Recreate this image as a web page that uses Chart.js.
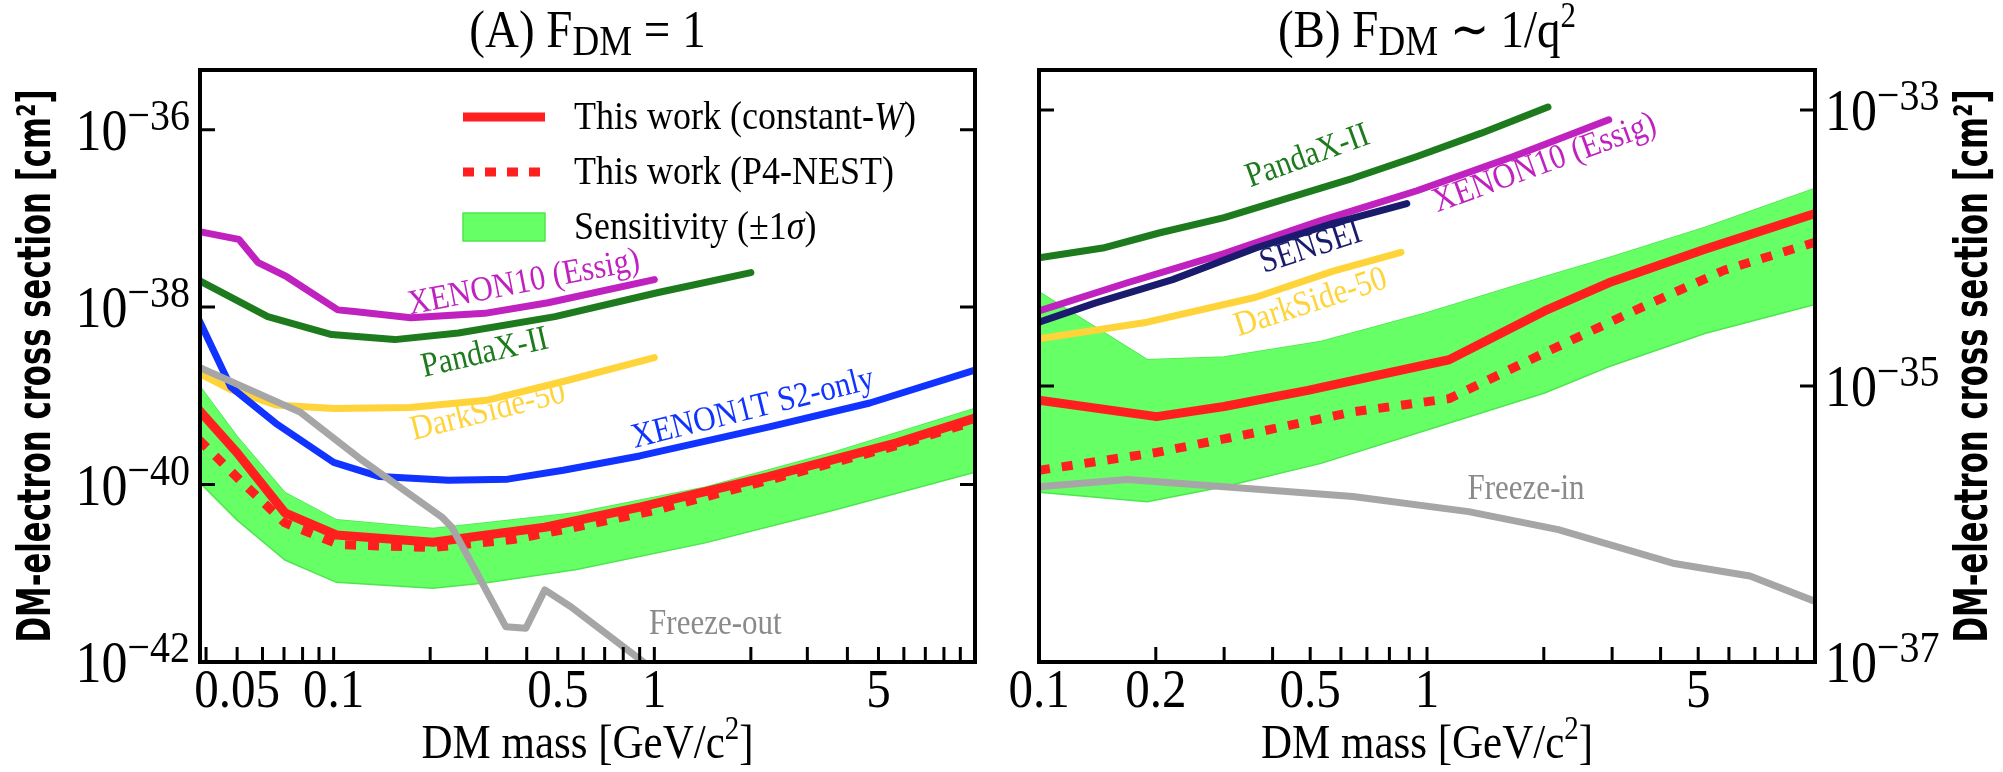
<!DOCTYPE html>
<html>
<head>
<meta charset="utf-8">
<script src="https://cdn.jsdelivr.net/npm/chart.js@4.4.1/dist/chart.umd.min.js"></script>
<style>
  html, body { margin:0; padding:0; background:#fff; }
  #wrap { position:relative; width:2003px; height:772px; overflow:hidden; }
  .panel { position:absolute; top:0; height:772px; }
</style>
</head>
<body>
<div id="wrap">
  <div class="panel" style="left:0;width:1000px"><canvas id="chartA" width="1000" height="772"></canvas></div>
  <div class="panel" style="left:1000px;width:1003px"><canvas id="chartB" width="1003" height="772"></canvas></div>
</div>
<script>
// ---- (A) F_DM = 1 ----
const massA_xenon10 = [0.038, 0.0506, 0.058, 0.0714, 0.103, 0.116, 0.174, 0.296, 0.466, 1.0];
const sigmaA_xenon10 = [7.1e-38, 5.8e-38, 3.2e-38, 2.2e-38, 9.3e-39, 8.9e-39, 7.6e-39, 8.5e-39, 1.12e-38, 2.04e-38];

const massA_pandax = [0.038, 0.0623, 0.0986, 0.155, 0.245, 0.49, 1.02, 2.0];
const sigmaA_pandax = [2.0e-38, 7.8e-39, 4.9e-39, 4.3e-39, 5.1e-39, 7.8e-39, 1.45e-38, 2.45e-38];

const massA_darkside = [0.038, 0.0478, 0.066, 0.1, 0.173, 0.30, 0.52, 1.0];
const sigmaA_darkside = [1.8e-39, 1.17e-39, 7.9e-40, 7.2e-40, 7.4e-40, 8.9e-40, 1.45e-39, 2.7e-39];

const massA_xenon1t = [0.038, 0.0478, 0.066, 0.1, 0.139, 0.228, 0.349, 0.52, 0.90, 2.3, 4.7, 10];
const sigmaA_xenon1t = [7.2e-39, 1.26e-39, 4.9e-40, 1.78e-40, 1.23e-40, 1.12e-40, 1.15e-40, 1.45e-40, 2.1e-40, 4.5e-40, 8.3e-40, 1.95e-39];

const massA_freeze = [0.038, 0.0789, 0.1198, 0.2175, 0.2336, 0.2735, 0.344, 0.3975, 0.4556, 0.549, 0.908, 1.0];
const sigmaA_freeze = [2.1e-39, 6.5e-40, 2.0e-40, 4.3e-41, 3.3e-41, 1.17e-41, 2.5e-42, 2.4e-42, 6.5e-42, 4.2e-42, 1.05e-42, 8e-43];

const massA_constW = [0.038, 0.0499, 0.0705, 0.102, 0.204, 0.30, 0.456, 0.908, 2.27, 5.7, 10];
const sigmaA_constW = [6.9e-40, 2.3e-40, 4.8e-41, 2.7e-41, 2.24e-41, 2.7e-41, 3.3e-41, 5.6e-41, 1.23e-40, 2.95e-40, 5.6e-40];

const massA_nest = [0.038, 0.051, 0.0705, 0.104, 0.204, 0.362, 0.52, 1.0, 2.27, 5.7, 10];
const sigmaA_nest = [3.2e-40, 1.12e-40, 3.7e-41, 2.1e-41, 1.95e-41, 2.4e-41, 3.1e-41, 5.1e-41, 1.12e-40, 2.75e-40, 5.2e-40];

const massA_band = [0.038, 0.0499, 0.0705, 0.102, 0.204, 0.30, 0.573, 1.44, 3.6, 10];
const sigmaA_bandHi = [1.32e-39, 3.5e-40, 8.1e-41, 4.0e-41, 3.2e-41, 3.7e-41, 4.8e-41, 9.3e-41, 2.3e-40, 7.2e-40];
const sigmaA_bandLo = [1.07e-40, 4.0e-41, 1.41e-41, 7.9e-42, 6.8e-42, 7.8e-42, 1.1e-41, 2.2e-41, 5.1e-41, 1.38e-40];

const ticksA_x = [0.05, 0.1, 0.5, 1, 5];
const ticksA_y = [1e-36, 1e-38, 1e-40, 1e-42];

// ---- (B) F_DM ~ 1/q^2 ----
const massB_pandax = [0.1, 0.146, 0.205, 0.30, 0.438, 0.644, 0.942, 1.38, 2.05];
const sigmaB_pandax = [8.5e-35, 1.0e-34, 1.29e-34, 1.66e-34, 2.3e-34, 3.2e-34, 4.6e-34, 6.8e-34, 1.05e-33];

const massB_xenon10 = [0.1, 0.169, 0.30, 0.533, 0.942, 1.67, 2.94];
const sigmaB_xenon10 = [3.5e-35, 5.6e-35, 9.1e-35, 1.58e-34, 2.6e-34, 4.6e-34, 8.5e-34];

const massB_sensei = [0.1, 0.14, 0.221, 0.362, 0.573, 0.887];
const sigmaB_sensei = [2.9e-35, 4.0e-35, 5.9e-35, 1.0e-34, 1.51e-34, 2.1e-34];

const massB_darkside = [0.1, 0.19, 0.362, 0.573, 0.857];
const sigmaB_darkside = [2.2e-35, 2.9e-35, 4.4e-35, 6.8e-35, 9.3e-35];

const massB_freeze = [0.1, 0.169, 0.30, 0.644, 1.28, 2.18, 4.3, 6.8, 10];
const sigmaB_freeze = [1.86e-36, 2.1e-36, 1.86e-36, 1.58e-36, 1.23e-36, 9.1e-37, 5.2e-37, 4.2e-37, 2.75e-37];

const massB_constW = [0.1, 0.201, 0.30, 0.493, 1.14, 2.01, 2.94, 5.2, 10];
const sigmaB_constW = [7.9e-36, 6.0e-36, 7.1e-36, 9.3e-36, 1.55e-35, 3.5e-35, 5.6e-35, 9.8e-35, 1.78e-34];

const massB_nest = [0.1, 0.201, 0.362, 0.644, 1.14, 2.01, 3.56, 5.83, 10];
const sigmaB_nest = [2.45e-36, 3.3e-36, 4.6e-36, 6.5e-36, 8.1e-36, 1.74e-35, 3.7e-35, 6.9e-35, 1.1e-34];

const massB_band = [0.1, 0.19, 0.30, 0.533, 1.0, 2.01, 2.94, 5.2, 10];
const sigmaB_bandHi = [4.8e-35, 1.55e-35, 1.62e-35, 2.1e-35, 3.4e-35, 6.2e-35, 8.5e-35, 1.41e-34, 2.7e-34];
const sigmaB_bandLo = [1.7e-36, 1.45e-36, 1.86e-36, 2.75e-36, 4.8e-36, 8.9e-36, 1.38e-35, 2.4e-35, 3.9e-35];

const ticksB_x = [0.1, 0.2, 0.5, 1, 5];
const ticksB_y = [1e-33, 1e-35, 1e-37];

// colours
const RED = '#ff1f1f', MAGENTA = '#bf22bf', DKGREEN = '#1d7b1d', BLUE = '#1133ff',
      GOLD = '#ffd43b', NAVY = '#1b1b6e', GREY = '#a6a6a6', GREYTXT = '#8a8a8a',
      BAND = '#66ff66', BANDEDGE = '#4ee64e';
const SERIF = '"Liberation Serif", "Times New Roman", serif';
const TALL = 1.13;   // serif glyphs in the figure are drawn a little taller than wide

const pts = (xs, ys) => xs.map((x, i) => ({ x, y: ys[i] }));

function line(xs, ys, color, width, order, dash){
  return {
    data: pts(xs, ys), borderColor: color, borderWidth: width, borderDash: dash || [],
    borderCapStyle: dash ? 'butt' : 'round', borderJoinStyle: 'round',
    pointRadius: 0, tension: 0, fill: false, order
  };
}
function band(xs, hi, lo){
  return [
    { data: pts(xs, hi), borderColor: BANDEDGE, borderWidth: 1.5, pointRadius: 0, tension: 0, fill: false, order: 21 },
    { data: pts(xs, lo), borderColor: BANDEDGE, borderWidth: 1.5, backgroundColor: BAND, pointRadius: 0, tension: 0, fill: '-1', order: 20 }
  ];
}

// minor+major tick positions k*10^e inside [min,max]
function logTicks(min, max){
  const out = [];
  for (let e = Math.floor(Math.log10(min)); e <= Math.ceil(Math.log10(max)); e++)
    for (let k = 1; k < 10; k++){
      const v = k * Math.pow(10, e);
      if (v >= min * 0.999 && v <= max * 1.001) out.push(v);
    }
  return out;
}

// text made of runs: {t, s (size), dy, it (italic)}
function runsWidth(ctx, runs){
  let w = 0;
  runs.forEach(r => { ctx.font = `${r.it ? 'italic ' : ''}${r.s}px ${SERIF}`; w += ctx.measureText(r.t).width; });
  return w;
}
function drawRuns(ctx, runs, x, y, align){
  let cx = align === 'center' ? x - runsWidth(ctx, runs) / 2 : x;
  ctx.textAlign = 'left'; ctx.textBaseline = 'alphabetic';
  runs.forEach(r => {
    ctx.font = `${r.it ? 'italic ' : ''}${r.s}px ${SERIF}`;
    ctx.save();
    ctx.translate(cx, y + (r.dy || 0));
    ctx.scale(1, TALL);
    ctx.fillText(r.t, 0, 0);
    ctx.restore();
    cx += ctx.measureText(r.t).width;
  });
}
function powRuns(v){
  const e = Math.round(Math.log10(v));
  return [{ t: '10', s: 52, dy: 20 }, { t: '\u2212' + Math.abs(e), s: 40 }];
}

function makeDeco(cfg){
  return {
    id: 'deco',
    afterDraw(chart){
      const { ctx, chartArea: a } = chart;
      const xs = chart.scales.x, ys = chart.scales.y;
      ctx.save();
      ctx.fillStyle = '#000'; ctx.strokeStyle = '#000';

      // inward ticks
      ctx.lineWidth = 3;
      logTicks(xs.min, xs.max).forEach(v => {
        const px = xs.getPixelForValue(v);
        ctx.beginPath(); ctx.moveTo(px, a.bottom); ctx.lineTo(px, a.bottom - 15); ctx.stroke();
      });
      cfg.yTicks.forEach(v => {
        const py = ys.getPixelForValue(v);
        ctx.beginPath();
        ctx.moveTo(a.left, py); ctx.lineTo(a.left + 15, py);
        ctx.moveTo(a.right, py); ctx.lineTo(a.right - 15, py);
        ctx.stroke();
      });

      // frame
      ctx.lineWidth = 4;
      ctx.strokeRect(a.left, a.top, a.right - a.left, a.bottom - a.top);

      // tick labels
      cfg.xTicks.forEach(v => {
        drawRuns(ctx, [{ t: String(v), s: 49 }], xs.getPixelForValue(v), a.bottom + 45, 'center');
      });
      cfg.yTicks.forEach(v => {
        const py = ys.getPixelForValue(v), runs = powRuns(v);
        if (cfg.ySide === 'left') drawRuns(ctx, runs, a.left - 10 - runsWidth(ctx, runs), py, 'left');
        else drawRuns(ctx, runs, a.right + 10, py, 'left');
      });

      // title and x label
      const mid = (a.left + a.right) / 2;
      drawRuns(ctx, cfg.title, mid, 47, 'center');
      drawRuns(ctx, [{ t: 'DM mass [GeV/c', s: 43 }, { t: '2', s: 29, dy: -19 }, { t: ']', s: 43 }], mid, a.bottom + 96, 'center');

      // y label, condensed bold sans
      const ylab = 'DM-electron cross section [cm\u00b2]';
      const yc = cfg.ySide === 'left' ? a.left - 162 : a.right + 160;
      ctx.save();
      ctx.translate(yc, (a.top + a.bottom) / 2);
      ctx.rotate(-Math.PI / 2);
      ctx.font = 'bold 47px "DejaVu Sans", sans-serif';
      const lw = ctx.measureText(ylab).width;
      ctx.scale(553 / lw, 1);
      ctx.textAlign = 'center'; ctx.textBaseline = 'middle';
      ctx.fillText(ylab, 0, 0);
      ctx.restore();

      // curve labels, placed at data coordinates
      cfg.labels.forEach(l => {
        ctx.save();
        ctx.translate(xs.getPixelForValue(l.x), ys.getPixelForValue(l.y));
        ctx.rotate(-l.angle * Math.PI / 180);
        ctx.scale(1, TALL);
        ctx.fillStyle = l.color; ctx.font = `31px ${SERIF}`;
        ctx.textAlign = 'center'; ctx.textBaseline = 'middle';
        ctx.fillText(l.text, 0, 0);
        ctx.restore();
      });

      if (cfg.legend) drawLegend(ctx, a);
      ctx.restore();
    }
  };
}

function drawLegend(ctx, a){
  const x0 = a.left + 263, x1 = a.left + 345, tx = a.left + 374;
  const rows = [a.top + 47, a.top + 102, a.top + 157];
  ctx.lineWidth = 9; ctx.strokeStyle = RED;
  ctx.beginPath(); ctx.moveTo(x0, rows[0]); ctx.lineTo(x1, rows[0]); ctx.stroke();
  ctx.setLineDash([11, 11]); ctx.lineCap = 'butt';
  ctx.beginPath(); ctx.moveTo(x0, rows[1]); ctx.lineTo(x1, rows[1]); ctx.stroke();
  ctx.setLineDash([]);
  ctx.fillStyle = BAND; ctx.strokeStyle = BANDEDGE; ctx.lineWidth = 1.5;
  ctx.fillRect(x0, rows[2] - 14, x1 - x0, 28); ctx.strokeRect(x0, rows[2] - 14, x1 - x0, 28);
  ctx.fillStyle = '#000';
  drawRuns(ctx, [{ t: 'This work (constant-', s: 36 }, { t: 'W', s: 36, it: true }, { t: ')', s: 36 }], tx, rows[0] + 12, 'left');
  drawRuns(ctx, [{ t: 'This work (P4-NEST)', s: 36 }], tx, rows[1] + 12, 'left');
  drawRuns(ctx, [{ t: 'Sensitivity (\u00b11', s: 36 }, { t: '\u03c3', s: 36, it: true }, { t: ')', s: 36 }], tx, rows[2] + 12, 'left');
}

function makeChart(id, datasets, xr, yr, pad, cfg){
  return new Chart(document.getElementById(id), {
    type: 'line',
    data: { datasets },
    options: {
      responsive: false, animation: false, devicePixelRatio: 1,
      layout: { padding: pad },
      plugins: { legend: { display: false }, tooltip: { enabled: false } },
      scales: {
        x: { type: 'logarithmic', min: xr[0], max: xr[1], bounds: 'data', display: false },
        y: { type: 'logarithmic', min: yr[0], max: yr[1], bounds: 'data', display: false }
      }
    },
    plugins: [makeDeco(cfg)]
  });
}

makeChart('chartA', [
  ...band(massA_band, sigmaA_bandHi, sigmaA_bandLo),
  line(massA_xenon10, sigmaA_xenon10, MAGENTA, 7, 8),
  line(massA_pandax, sigmaA_pandax, DKGREEN, 7, 7),
  line(massA_darkside, sigmaA_darkside, GOLD, 7, 6),
  line(massA_xenon1t, sigmaA_xenon1t, BLUE, 7, 5),
  line(massA_nest, sigmaA_nest, RED, 9, 3, [11, 12]),
  line(massA_constW, sigmaA_constW, RED, 9, 2),
  line(massA_freeze, sigmaA_freeze, GREY, 7, 1)
], [0.0383, 10], [1e-42, 4.7e-36], { left: 200, top: 70, right: 25, bottom: 110 }, {
  title: [{ t: '(A) F', s: 47 }, { t: 'DM', s: 37, dy: 8 }, { t: ' = 1', s: 47 }],
  xTicks: ticksA_x, yTicks: ticksA_y, ySide: 'left', legend: true,
  labels: [
    { text: 'XENON10 (Essig)', x: 0.392, y: 1.87e-38, angle: 11, color: MAGENTA },
    { text: 'PandaX-II', x: 0.296, y: 3.0e-39, angle: 13, color: DKGREEN },
    { text: 'DarkSide-50', x: 0.303, y: 6.6e-40, angle: 14, color: GOLD },
    { text: 'XENON1T S2-only', x: 2.03, y: 7.1e-40, angle: 14, color: BLUE },
    { text: 'Freeze-out', x: 1.55, y: 2.6e-42, angle: 0, color: GREYTXT }
  ]
});

makeChart('chartB', [
  ...band(massB_band, sigmaB_bandHi, sigmaB_bandLo),
  line(massB_pandax, sigmaB_pandax, DKGREEN, 7, 8),
  line(massB_xenon10, sigmaB_xenon10, MAGENTA, 7, 7),
  line(massB_sensei, sigmaB_sensei, NAVY, 7, 6),
  line(massB_darkside, sigmaB_darkside, GOLD, 7, 5),
  line(massB_nest, sigmaB_nest, RED, 9, 3, [11, 12]),
  line(massB_constW, sigmaB_constW, RED, 9, 2),
  line(massB_freeze, sigmaB_freeze, GREY, 7, 1)
], [0.1, 10], [1e-37, 1.95e-33], { left: 39, top: 70, right: 188, bottom: 110 }, {
  title: [{ t: '(B) F', s: 47 }, { t: 'DM', s: 37, dy: 8 }, { t: ' \u223c 1/q', s: 47 }, { t: '2', s: 31, dy: -20 }],
  xTicks: ticksB_x, yTicks: ticksB_y, ySide: 'right', legend: false,
  labels: [
    { text: 'PandaX-II', x: 0.493, y: 4.6e-34, angle: 20, color: DKGREEN },
    { text: 'XENON10 (Essig)', x: 2.01, y: 4.1e-34, angle: 20, color: MAGENTA },
    { text: 'SENSEI', x: 0.502, y: 1.0e-34, angle: 18, color: NAVY },
    { text: 'DarkSide-50', x: 0.502, y: 4.0e-35, angle: 18, color: GOLD },
    { text: 'Freeze-in', x: 1.8, y: 1.77e-36, angle: 0, color: GREYTXT }
  ]
});
</script>
</body>
</html>
